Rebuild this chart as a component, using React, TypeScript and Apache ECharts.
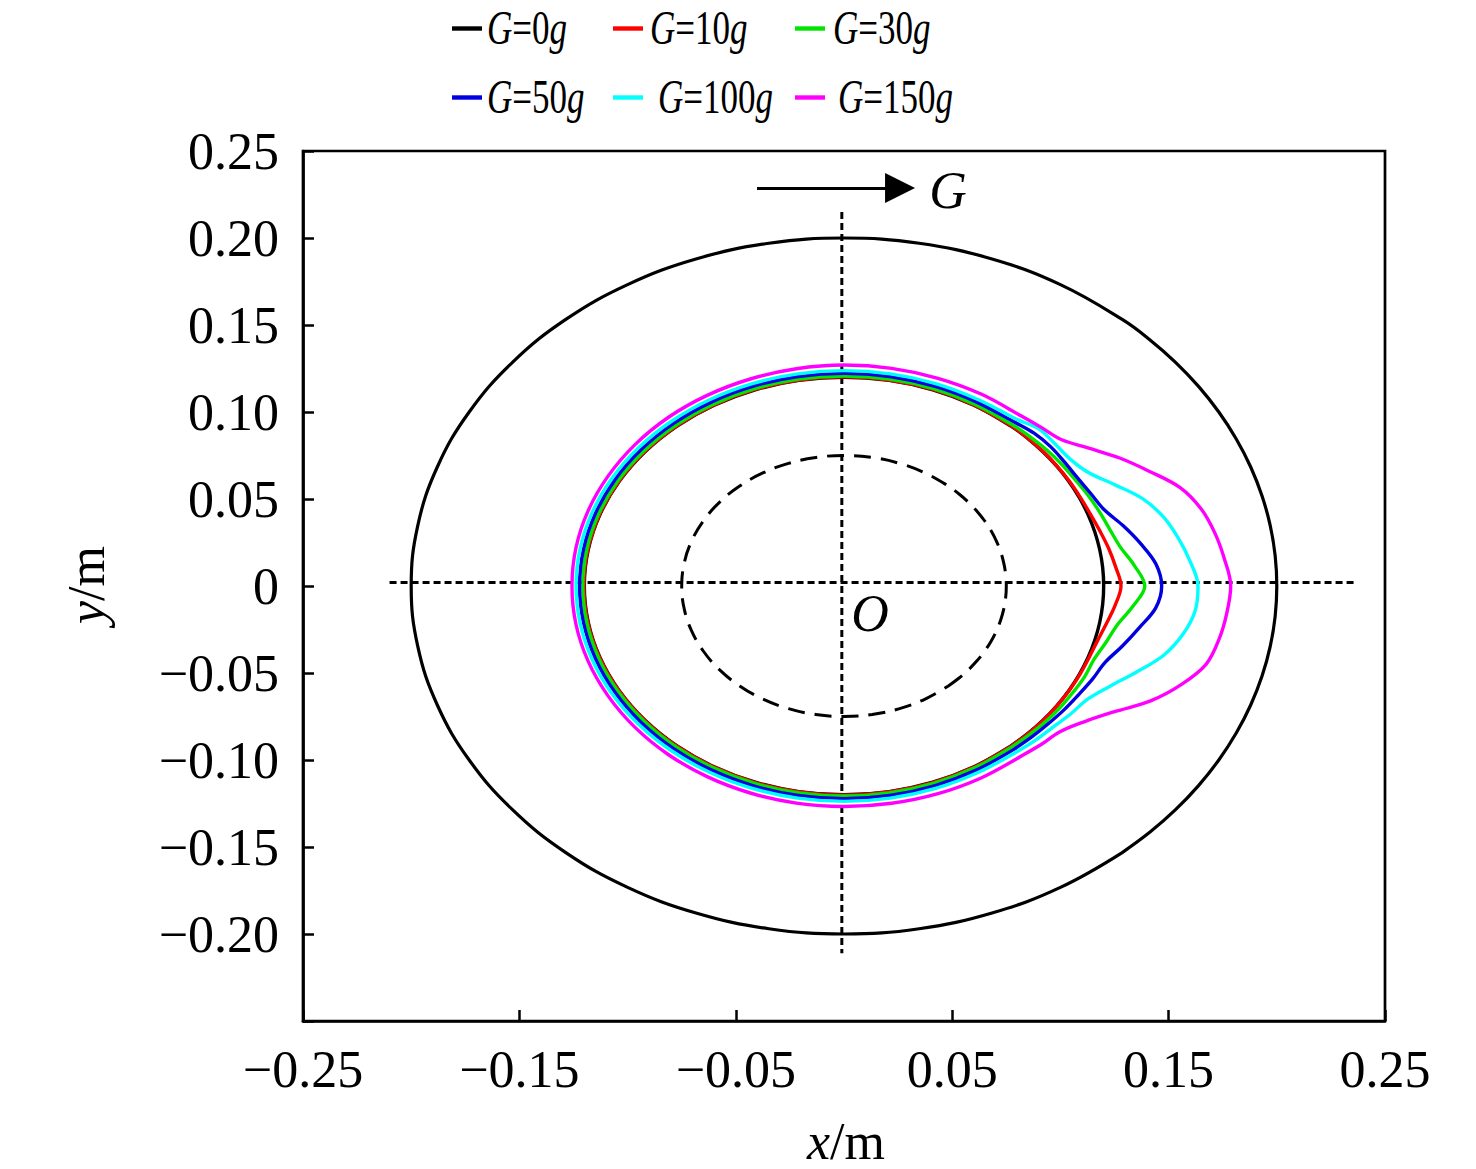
import React, { useEffect, useRef } from "react";
import * as echarts from "echarts";

const FONT = '"Liberation Serif", "Times New Roman", serif';

// polar sampling angles (deg): fine steps across the deformed zone, coarser round the back, loop closed
const ANGLES = [
  -50, -45, -40, -35, -30, -25, -20, -15, -10, -5, 0, 5, 10, 15, 20, 25, 30, 35, 40, 45, 50,
  60, 70, 80, 90, 100, 110, 120, 130, 140, 150, 160, 170, 180, 190, 200, 210, 220, 230, 240,
  250, 260, 270, 280, 290, 300, 310,
];

// radius (m) read at each angle
const R_BEARING = [
  0.2, 0.2, 0.2, 0.2, 0.2, 0.2, 0.2, 0.2, 0.2, 0.2, 0.2, 0.2, 0.2, 0.2, 0.2, 0.2, 0.2, 0.2, 0.2, 0.2, 0.2,
  0.2, 0.2, 0.2, 0.2, 0.2, 0.2, 0.2, 0.2, 0.2, 0.2, 0.2, 0.2, 0.2, 0.2, 0.2, 0.2, 0.2, 0.2, 0.2,
  0.2, 0.2, 0.2, 0.2, 0.2, 0.2, 0.2,
];
const R_SHAFT = [
  0.075, 0.075, 0.075, 0.075, 0.075, 0.075, 0.075, 0.075, 0.075, 0.075, 0.075, 0.075, 0.075, 0.075,
  0.075, 0.075, 0.075, 0.075, 0.075, 0.075, 0.075,
  0.075, 0.075, 0.075, 0.075, 0.075, 0.075, 0.075, 0.075, 0.075, 0.075, 0.075, 0.075, 0.075, 0.075,
  0.075, 0.075, 0.075, 0.075, 0.075, 0.075, 0.075, 0.075, 0.075, 0.075, 0.075, 0.075,
];
const R_G0 = [
  0.12, 0.12, 0.12, 0.12, 0.12, 0.12, 0.12, 0.12, 0.12, 0.12, 0.12, 0.12, 0.12, 0.12, 0.12, 0.12, 0.12,
  0.12, 0.12, 0.12, 0.12,
  0.12, 0.12, 0.12, 0.12, 0.12, 0.12, 0.12, 0.12, 0.12, 0.12, 0.12, 0.12, 0.12, 0.12, 0.12, 0.12, 0.12,
  0.12, 0.12, 0.12, 0.12, 0.12, 0.12, 0.12, 0.12, 0.12,
];
const R_G10 = [
  0.1202, 0.1202, 0.1202, 0.1202, 0.1202, 0.1203, 0.1205, 0.1213, 0.1232, 0.1258, 0.128, 0.126,
  0.1242, 0.1224, 0.1211, 0.1205, 0.1203, 0.1202, 0.1202, 0.1202, 0.1202,
  0.1202, 0.1202, 0.1202, 0.1202, 0.1202, 0.1202, 0.1202, 0.1202, 0.1202, 0.1202, 0.1202, 0.1202,
  0.1202, 0.1202, 0.1202, 0.1202, 0.1202, 0.1202, 0.1202, 0.1202, 0.1202, 0.1202, 0.1202, 0.1202,
  0.1202, 0.1202,
];
const R_G30 = [
  0.1207, 0.121, 0.1215, 0.1219, 0.1222, 0.1228, 0.123, 0.1253, 0.1283, 0.134, 0.139, 0.1347, 0.1296,
  0.127, 0.1255, 0.1242, 0.123, 0.1225, 0.122, 0.1215, 0.121,
  0.1207, 0.1207, 0.1207, 0.1207, 0.1207, 0.1207, 0.1207, 0.1207, 0.1207, 0.1207, 0.1207, 0.1207,
  0.1207, 0.1207, 0.1207, 0.1207, 0.1207, 0.1207, 0.1207, 0.1207, 0.1207, 0.1207, 0.1207, 0.1207,
  0.1207, 0.1207,
];
const R_G50 = [
  0.1224, 0.1227, 0.1232, 0.1241, 0.1251, 0.1267, 0.1284, 0.1332, 0.1385, 0.1446, 0.1468, 0.1447,
  0.1393, 0.1336, 0.128, 0.1258, 0.1245, 0.1243, 0.1246, 0.1242, 0.1228,
  0.1222, 0.1222, 0.1222, 0.1222, 0.1222, 0.1222, 0.1222, 0.1222, 0.1222, 0.1222, 0.1222, 0.1222,
  0.1222, 0.1222, 0.1222, 0.1222, 0.1222, 0.1222, 0.1222, 0.1222, 0.1222, 0.1222, 0.1222, 0.1222,
  0.1222, 0.1224,
];
const R_G100 = [
  0.1243, 0.1252, 0.1261, 0.128, 0.13, 0.1359, 0.1441, 0.1531, 0.1591, 0.1629, 0.1636, 0.1606, 0.157,
  0.1529, 0.1468, 0.1379, 0.1304, 0.1274, 0.1272, 0.1275, 0.1248,
  0.1238, 0.1238, 0.1238, 0.1238, 0.1238, 0.1238, 0.1238, 0.1238, 0.1238, 0.1238, 0.1238, 0.1238,
  0.1238, 0.1238, 0.1238, 0.1238, 0.1238, 0.1238, 0.1238, 0.1238, 0.1238, 0.1238, 0.1238, 0.1238,
  0.1238, 0.1243,
];
const R_G150 = [
  0.1275, 0.1288, 0.1303, 0.1358, 0.1444, 0.1563, 0.1658, 0.1733, 0.176, 0.1776, 0.1787, 0.1765,
  0.1741, 0.1709, 0.1653, 0.1558, 0.1471, 0.1381, 0.131, 0.1289, 0.1275,
  0.1272, 0.127, 0.127, 0.127, 0.1268, 0.1266, 0.1265, 0.1264, 0.1262, 0.126, 0.1259, 0.1258, 0.1257,
  0.1258, 0.1259, 0.126, 0.1262, 0.1264, 0.1265, 0.1266, 0.1267, 0.1267, 0.1268, 0.127, 0.1272,
  0.1275,
];

const SERIES_NAMES = ["G=0g", "G=10g", "G=30g", "G=50g", "G=100g", "G=150g"];
const SERIES_RADII = [R_G0, R_G10, R_G30, R_G50, R_G100, R_G150];
const COLORS = ["#000000", "#ff0000", "#00e600", "#0000e0", "#00ffff", "#ff00ff"];

// guide lines through the centre and the load arrow (data units)
const GUIDE_H_X = [-0.21, 0.236];
const GUIDE_H_Y = 0.002;
const GUIDE_V_X = -0.001;
const GUIDE_V_Y = [0.215, -0.211];
const ARROW_X = [-0.0402, 0.0259];
const ARROW_Y = 0.2287;

const toXY = (radii: number[]) =>
  ANGLES.map((a, i) => {
    const t = (a * Math.PI) / 180;
    return [radii[i] * Math.cos(t), radii[i] * Math.sin(t)];
  });

const fmt = (v: number) => {
  if (Math.abs(v) < 1e-9) return "0";
  return v.toFixed(2).replace("-", "\u2212");
};

// legend layout (px): two rows of three
const LEGEND_ICON_X = [452, 613, 795, 452, 613, 795];
const LEGEND_TEXT_X = [487, 650, 833, 487, 658, 838];
const LEGEND_ROW_Y = [28.5, 97.5];

const App: React.FC = () => {
  const chartRef = useRef<HTMLDivElement>(null);

  useEffect(() => {
    document.body.style.margin = "0";
    document.body.style.overflow = "hidden";
    if (!chartRef.current) return;
    const chart = echarts.init(chartRef.current, undefined, { renderer: "svg" });

    const plain = (name: string, data: number[][], width: number, type: any) => ({
      name,
      type: "line",
      data,
      symbol: "none",
      showSymbol: false,
      silent: true,
      smooth: 0.4,
      lineStyle: { color: "#000", width, type },
      z: 2,
    });

    const series: any[] = [
      plain("bearing", toXY(R_BEARING), 3.2, "solid"),
      plain("shaft", toXY(R_SHAFT), 3, [17, 10]),
      {
        ...plain("guideH", GUIDE_H_X.map((x) => [x, GUIDE_H_Y]), 3, [7, 4]),
        smooth: false,
      },
      {
        ...plain("guideV", GUIDE_V_Y.map((y) => [GUIDE_V_X, y]), 3, [7, 4]),
        smooth: false,
        markLine: {
          silent: true,
          symbol: ["none", "triangle"],
          symbolSize: 30,
          lineStyle: { color: "#000", width: 3, type: "solid" },
          label: { show: false },
          data: [
            [
              { coord: [ARROW_X[0], ARROW_Y] },
              { coord: [ARROW_X[1], ARROW_Y] },
            ],
          ],
        },
      },
      ...SERIES_NAMES.map((name, i) => ({
        name,
        type: "line",
        data: toXY(SERIES_RADII[i]),
        symbol: "none",
        showSymbol: false,
        smooth: 0.35,
        color: COLORS[i],
        lineStyle: { color: COLORS[i], width: 3.4 },
        z: 3 + i,
      })),
    ];

    const legendRich = {
      i: { fontFamily: FONT, fontSize: 48, fontStyle: "italic", fill: "#000" },
      n: { fontFamily: FONT, fontSize: 48, fill: "#000" },
    };

    const legendGraphics: any[] = [];
    SERIES_NAMES.forEach((name, i) => {
      const rowY = LEGEND_ROW_Y[i < 3 ? 0 : 1];
      const num = name.replace("G=", "").replace("g", "");
      legendGraphics.push({
        type: "rect",
        silent: true,
        shape: { x: LEGEND_ICON_X[i], y: rowY - 2.2, width: 30, height: 4.4 },
        style: { fill: COLORS[i] },
      });
      legendGraphics.push({
        type: "text",
        silent: true,
        x: LEGEND_TEXT_X[i],
        y: rowY,
        scaleX: 0.73,
        style: {
          text: `{i|G}{n|=${num}}{i|g}`,
          fill: "#000",
          align: "left",
          verticalAlign: "middle",
          rich: legendRich,
        },
      });
    });

    const axisCommon = {
      type: "value" as const,
      min: -0.25,
      max: 0.25,
      axisLine: { show: true, onZero: false, lineStyle: { color: "#000", width: 2.7 } },
      axisTick: { show: true, inside: true, length: 11, lineStyle: { color: "#000", width: 2.5 } },
      splitLine: { show: false },
    };

    const titleRich = {
      i: { fontFamily: FONT, fontSize: 52, fontStyle: "italic", fill: "#000" },
      n: { fontFamily: FONT, fontSize: 52, fill: "#000" },
    };

    chart.setOption({
      animation: false,
      backgroundColor: "#fff",
      grid: {
        left: 303,
        top: 151,
        width: 1082,
        height: 870,
        containLabel: false,
        outerBoundsMode: "none",
        show: true,
        borderColor: "#000",
        borderWidth: 2.7,
      },
      xAxis: {
        ...axisCommon,
        interval: 0.1,
        axisLabel: {
          color: "#000",
          fontFamily: FONT,
          fontSize: 52,
          margin: 22,
          formatter: fmt,
        },
      },
      yAxis: {
        ...axisCommon,
        interval: 0.05,
        axisLabel: {
          color: "#000",
          fontFamily: FONT,
          fontSize: 52,
          margin: 24,
          formatter: (v: number) => (v < -0.249 ? "" : fmt(v)),
        },
      },
      graphic: [
        ...legendGraphics,
        {
          type: "text",
          x: 948,
          y: 190,
          silent: true,
          style: {
            text: "G",
            fontFamily: FONT,
            fontSize: 52,
            fontStyle: "italic",
            fill: "#000",
            align: "center",
            verticalAlign: "middle",
          },
        },
        {
          type: "text",
          x: 870,
          y: 613,
          silent: true,
          style: {
            text: "O",
            fontFamily: FONT,
            fontSize: 52,
            fontStyle: "italic",
            fill: "#000",
            align: "center",
            verticalAlign: "middle",
          },
        },
        {
          type: "text",
          x: 846,
          y: 1141,
          silent: true,
          style: {
            text: "{i|x}{n|/m}",
            fill: "#000",
            align: "center",
            verticalAlign: "middle",
            rich: titleRich,
          },
        },
        {
          type: "text",
          x: 86,
          y: 585,
          rotation: Math.PI / 2,
          silent: true,
          style: {
            text: "{i|y}{n|/m}",
            fill: "#000",
            align: "center",
            verticalAlign: "middle",
            rich: titleRich,
          },
        },
      ],
      series,
    });

    return () => {
      chart.dispose();
    };
  }, []);

  return <div ref={chartRef} style={{ width: "1476px", height: "1169px" }} />;
};

export default App;
